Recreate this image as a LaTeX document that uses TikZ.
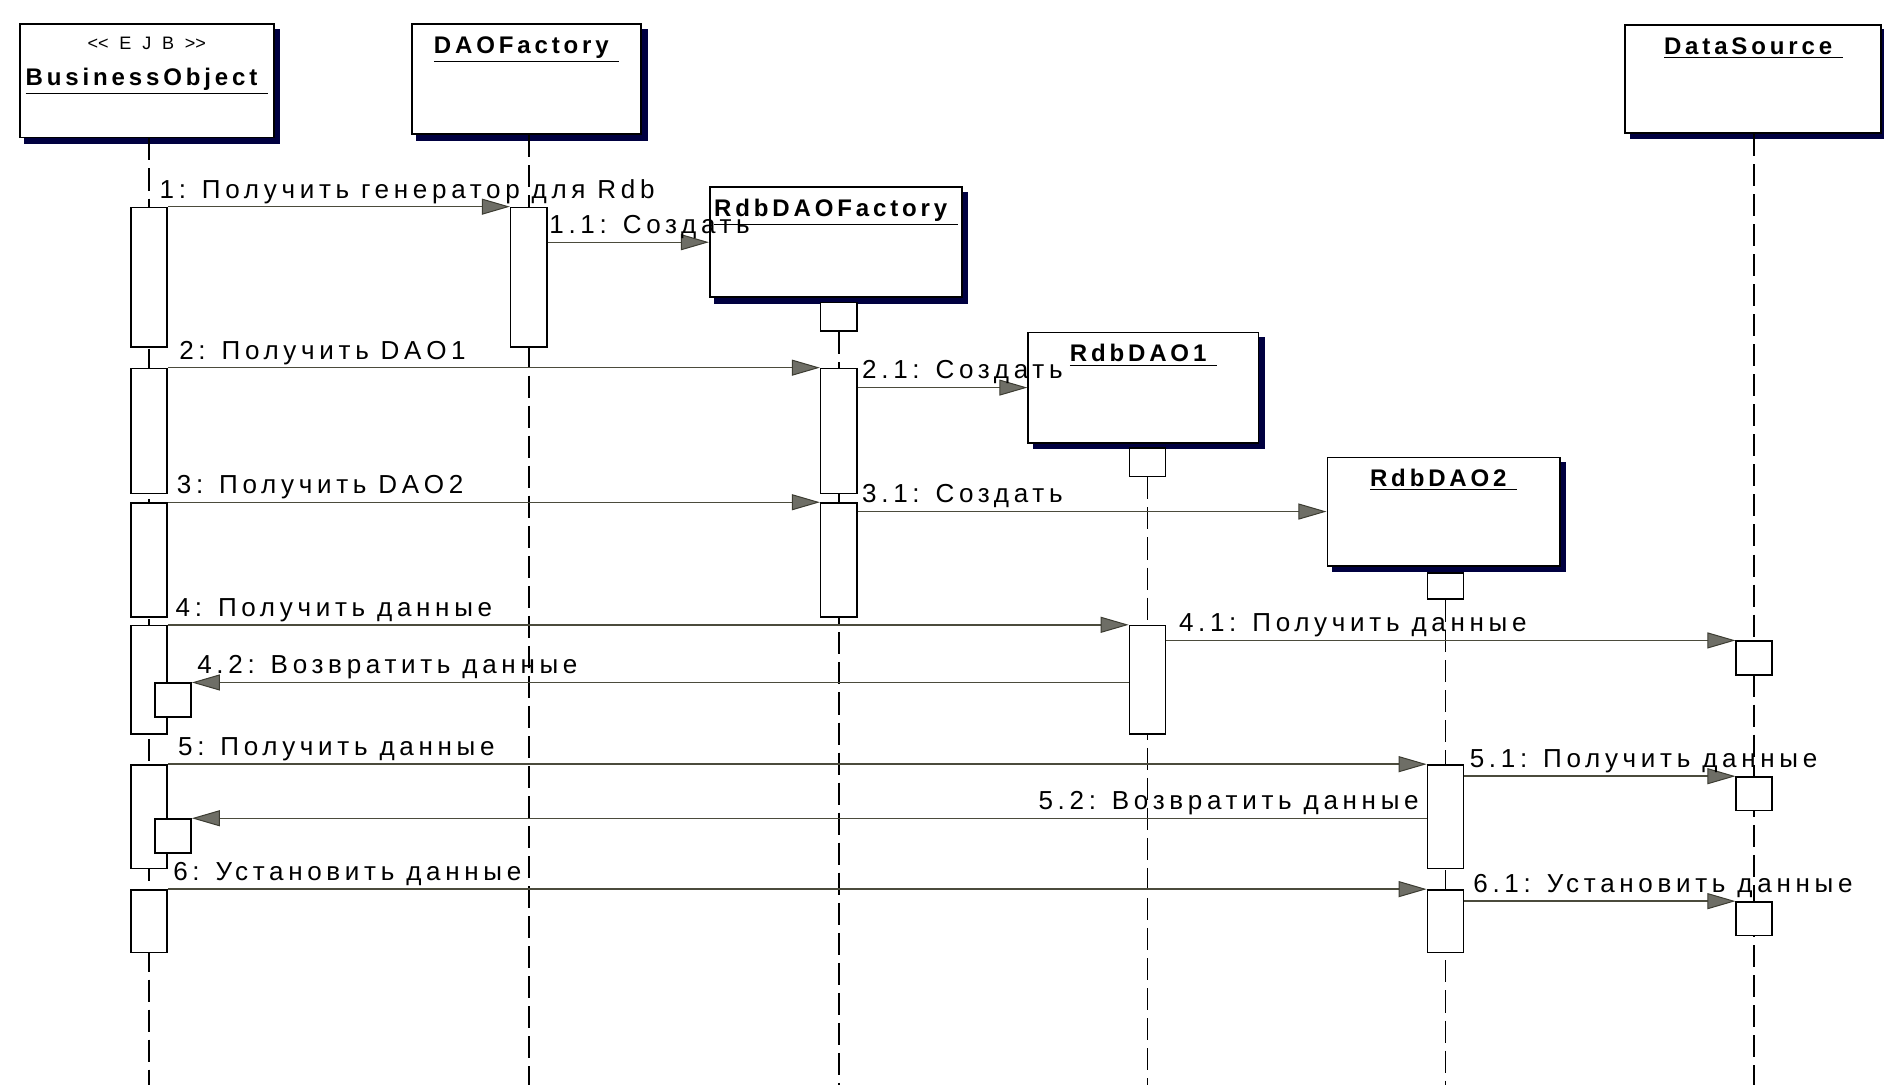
\documentclass[tikz,border=0pt]{standalone}
\usepackage{fontspec}
\usetikzlibrary{arrows.meta,shadows,positioning}
\newfontfamily\msgfont[LetterSpace=18]{Liberation Sans}
\newfontfamily\objfont[LetterSpace=16]{Liberation Sans}
\newfontfamily\stereofont[LetterSpace=60]{Liberation Sans}
\definecolor{msgline}{HTML}{4B4B3C}
\definecolor{tipfill}{HTML}{6E6E66}
\definecolor{tipdraw}{HTML}{3C3C32}
\definecolor{shadownavy}{HTML}{000040}

\begin{document}
\begin{tikzpicture}[x=0.6pt, y=-0.6pt,
    objbox/.style={rectangle, draw, line width=0.9pt, fill=white, inner sep=0pt, anchor=north west,
        copy shadow={shadow xshift=2.7pt, shadow yshift=-2.7pt, draw=shadownavy, fill=shadownavy}},
    objname/.style={font=\objfont\fontsize{12}{14}\selectfont\bfseries, inner sep=0pt, anchor=base},
    bar/.style={rectangle, draw, line width=0.8pt, fill=white, inner sep=0pt, minimum width=18pt, anchor=north},
    lifeline/.style={line width=0.9pt, dash pattern=on 11pt off 4pt},
    msg/.style={draw=msgline, line width=0.7pt,
        -{Triangle[length=14pt, width=8pt, color=tipdraw, fill=tipfill, line width=0.5pt]}},
    lbl/.style={font=\msgfont\fontsize{13}{15}\selectfont, inner sep=0pt, anchor=base west, yshift=4.3pt}
    ]
    \useasboundingbox (0,0) rectangle (1568,903);
    % Objects
    \node[objbox, minimum width=127pt, minimum height=56.6pt] (bo) at (15.6,19.4) {};
    \node[objbox, minimum width=114.6pt, minimum height=55pt] (daof) at (342,19.4) {};
    \node[objbox, minimum width=127.8pt, minimum height=54pt] (ds) at (1352,20) {};
    \node[objbox, minimum width=126pt, minimum height=55pt] (rdbf) at (590,155) {};
    \node[objbox, minimum width=115pt, minimum height=55pt] (rdao1) at (855,276) {};
    \node[objbox, minimum width=116pt, minimum height=54pt] (rdao2) at (1104,380) {};
    % Object names
    \node[font=\stereofont\fontsize{9}{11}\selectfont, inner sep=0pt, anchor=base] (bost) at ([yshift=-13.2pt]bo.north) {<\kern0pt<EJB>\kern0pt>};
    \node[objname] (boname) at ([yshift=-30.9pt]bo.north) {\underline{BusinessObject\ }};
    \node[objname] (daofname) at ([yshift=-15.1pt]daof.north) {\underline{DAOFactory\ }};
    \node[objname] (dsname) at ([yshift=-15.1pt]ds.north) {\underline{DataSource\ }};
    \node[objname] (rdbfname) at ([yshift=-15.1pt]rdbf.north) {\underline{RdbDAOFactory\ }};
    \node[objname] (rdao1name) at ([yshift=-15.1pt]rdao1.north) {\underline{RdbDAO1\ }};
    \node[objname] (rdao2name) at ([yshift=-15.1pt]rdao2.north) {\underline{RdbDAO2\ }};
    % Lifelines
    \coordinate (boEnd) at (124,903);
    \coordinate (daofEnd) at (440,903);
    \coordinate (rfEnd) at (698,903);
    \coordinate (d1End) at (955,903);
    \coordinate (d2End) at (1203,903);
    \coordinate (dsEnd) at (1460,903);
    \node[bar, minimum height=14.4pt] (rfTail) at (698,251) {};
    \node[bar, minimum height=14.4pt] (d1Tail) at (955,372) {};
    \node[bar, minimum height=13.2pt] (d2Tail) at (1203,476) {};
    \draw[lifeline] (bo.south -| boEnd) -- (boEnd);
    \draw[lifeline] (daof.south -| daofEnd) -- (daofEnd);
    \draw[lifeline] (ds.south -| dsEnd) -- (dsEnd);
    \draw[lifeline] (rfTail.south) -- (rfEnd);
    \draw[lifeline] (d1Tail.south) -- (d1End);
    \draw[lifeline] (d2Tail.south) -- (d2End);
    % Activations
    \foreach \n/\x/\t/\b in {boA1/124/172/288, boA2/124/306/410, boA3/124/418/513,
            boA4/124/520/610, boA5/124/636/722, boA6/124/740/792,
            boN1/144/568/596, boN2/144/681/709,
            daoA1/440/172/288, rfA1/698/306/410, rfA2/698/418/513,
            d1A1/955/520/610, d2A1/1203/636/722, d2A2/1203/740/792,
            dsA1/1460/533/561, dsA2/1460/646/674, dsA3/1460/750/778}
        \node[bar, minimum height={(\b-\t)*0.6pt}] (\n) at (\x,\t) {};
    % Messages
    \draw[msg] (boA1.north east) -- (daoA1.north west)
        node[lbl, pos=0, xshift=-4.4pt] (m1) {1: Получить генератор для Rdb};
    \draw[msg] (daoA1.east |- rdbf.west) -- (rdbf.west)
        node[lbl, pos=0, xshift=0.6pt] (m11) {1.1: Создать};
    \draw[msg] (boA2.north east) -- (rfA1.north west)
        node[lbl, pos=0, xshift=5.4pt] (m2) {2: Получить DAO1};
    \draw[msg] (rfA1.east |- rdao1.west) -- (rdao1.west)
        node[lbl, pos=0, xshift=2pt] (m21) {2.1: Создать};
    \draw[msg] (boA3.north east) -- (rfA2.north west)
        node[lbl, pos=0, xshift=4.2pt] (m3) {3: Получить DAO2};
    \draw[msg] (rfA2.east |- rdao2.west) -- (rdao2.west)
        node[lbl, pos=0, xshift=2pt] (m31) {3.1: Создать};
    \draw[msg] (boA4.north east) -- (d1A1.north west)
        node[lbl, pos=0, xshift=3.6pt] (m4) {4: Получить данные};
    \draw[msg] (d1A1.east |- dsA1.north) -- (dsA1.north west)
        node[lbl, pos=0, xshift=6pt] (m41) {4.1: Получить данные};
    \draw[msg] (d1A1.west |- boN1.north) -- (boN1.north east)
        node[lbl, pos=1, xshift=2.4pt] (m42) {4.2: Возвратить данные};
    \draw[msg] (boA5.north east) -- (d2A1.north west)
        node[lbl, pos=0, xshift=4.8pt] (m5) {5: Получить данные};
    \draw[msg] (d2A1.east |- dsA2.north) -- (dsA2.north west)
        node[lbl, pos=0, xshift=2.4pt] (m51) {5.1: Получить данные};
    \draw[msg] (d2A1.west |- boN2.north) -- (boN2.north east)
        node[lbl, pos=0, anchor=base east, xshift=-3.6pt] (m52) {5.2: Возвратить данные};
    \draw[msg] (boA6.north east) -- (d2A2.north west)
        node[lbl, pos=0, xshift=2.4pt] (m6) {6: Установить данные};
    \draw[msg] (d2A2.east |- dsA3.north) -- (dsA3.north west)
        node[lbl, pos=0, xshift=4.2pt] (m61) {6.1: Установить данные};
\end{tikzpicture}
\end{document}
